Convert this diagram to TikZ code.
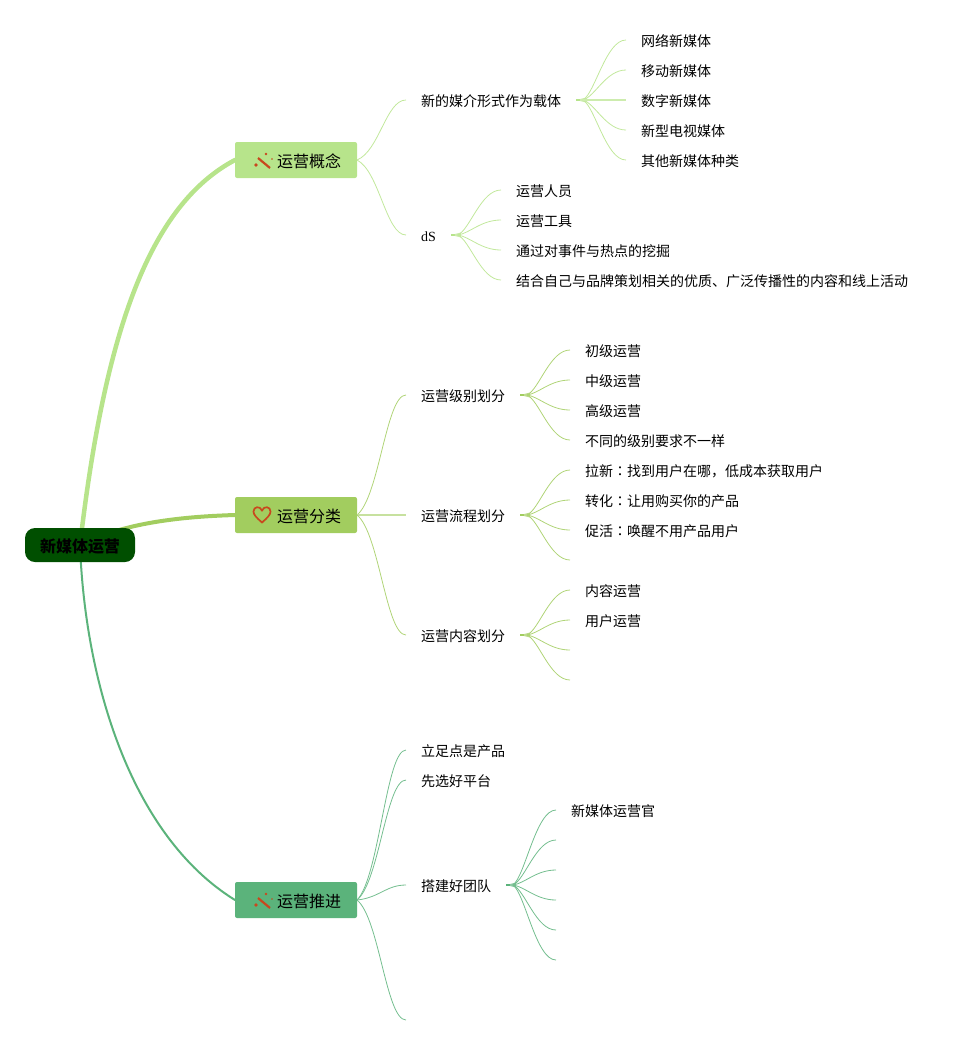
\documentclass[tikz,border=0pt]{standalone}
\usepackage{fontspec}
\setmainfont{Noto Sans CJK SC}
\newfontfamily\latinserif{Liberation Serif}
\newfontfamily\tcglyph{Noto Sans CJK TC}
\usetikzlibrary{calc,backgrounds}
\definecolor{cA}{HTML}{B7E48B}
\definecolor{cB}{HTML}{A2CD5F}
\definecolor{cC}{HTML}{5BB37B}
\definecolor{cRoot}{HTML}{004F00}
\definecolor{cIcon}{HTML}{C8481E}
\tikzset{
  rootbox/.style={draw=none,fill=cRoot,rounded corners=10pt,font=\fontsize{16}{18}\selectfont\bfseries,text=black,inner xsep=15pt,inner ysep=8pt,text height=16pt,text depth=2pt,outer sep=0pt},
  topicbox/.style={rounded corners=2pt,font=\fontsize{16}{18}\selectfont,text=black,inner xsep=0pt,inner ysep=9pt,text width=122pt,align=left,text height=16pt,text depth=2pt,outer sep=0pt},
  item/.style={anchor=west,font=\fontsize{14}{16}\selectfont,text=black,inner xsep=15pt,inner ysep=0pt,text height=14pt,text depth=1.4pt,outer sep=0pt},
  mainlink/.style={line cap=round},
  thin link/.style={line width=0.8pt},
  stublink/.style={line width=2pt},
  iconline/.style={draw=cIcon,line width=2.2pt},
  icondot/.style={fill=cIcon,draw=none}
}
\newcommand{\fanlink}[3]{\draw[#1!85!white,thin link] (#2) .. controls ($(#2)!0.12!(#3)+(7,0)$) and ($(#3)+(-20,0)$) .. (#3);}
\newcommand{\toplink}[3]{\draw[#1!85!white,thin link] (#2) .. controls ($(#2)!0.15!(#3)+(15,0)$) and ($(#3)+(-20,0)$) .. (#3);}
\newcommand{\stub}[3]{\coordinate (#3) at ($(#2)+(7,0)$);\draw[#1,stublink] (#2) -- (#3);\fill[#1!70!white] ($(#3)+(-3,-1)$) -- ($(#3)+(3,-2.5)$) -- ($(#3)+(3,2.5)$) -- ($(#3)+(-3,1)$) -- cycle;}
\newcommand{\wand}[1]{\begin{scope}[shift={(#1)}]
  \draw[iconline] (-4,-2) -- (8,8);
  \fill[icondot] (4,-6) circle (1.4pt) (10,-1) circle (0.8pt) (-6,5) circle (1.8pt);
\end{scope}}
\begin{document}
\begin{tikzpicture}[x=1pt,y=-1pt]
\useasboundingbox (0,0) rectangle (968,1045);
% central topic and main topics
\node[rootbox] (root) at (80,545) {新媒体运营};
\node[topicbox,fill=cA] (t1) at (296,160) {\hspace*{42pt}运营概念};
\node[topicbox,fill=cB] (t2) at (296,515) {\hspace*{42pt}运营分类};
\node[topicbox,fill=cC] (t3) at (296,900) {\hspace*{42pt}运营推进};
% second level
\node[item] (a1) at (406,100) {新的媒介形式作为载体};
\node[item] (a2) at (406,235) {\latinserif dS};
\node[item] (b1) at (406,395) {运营级别划分};
\node[item] (b2) at (406,515) {运营流程划分};
\node[item] (b3) at (406,635) {运营内容划分};
\node[item] (c1) at (406,750) {立足点是产品};
\node[item] (c2) at (406,780) {先选好平台};
\node[item] (c3) at (406,885) {搭建好团队};
\coordinate (c4) at (406,1020);
% third level
\node[item] (a11) at (626,40) {网络新媒体};
\node[item] (a12) at (626,70) {移动新媒体};
\node[item] (a13) at (626,100) {数字新媒体};
\node[item] (a14) at (626,130) {新型电视媒体};
\node[item] (a15) at (626,160) {其他新媒体种类};
\node[item] (a21) at (501,190) {运营人员};
\node[item] (a22) at (501,220) {运营工具};
\node[item] (a23) at (501,250) {通过对事件与热点的挖掘};
\node[item] (a24) at (501,280) {结合自己与品牌策划相关的优质、广泛传播性的内容和线上活动};
\node[item] (b11) at (570,350) {初级运营};
\node[item] (b12) at (570,380) {中级运营};
\node[item] (b13) at (570,410) {高级运营};
\node[item] (b14) at (570,440) {不同的级别要求不一样};
\node[item] (b21) at (570,470) {拉新{\tcglyph ：}找到用户在哪，低成本获取用户};
\node[item] (b22) at (570,500) {转化{\tcglyph ：}让用购买你的产品};
\node[item] (b23) at (570,530) {促活{\tcglyph ：}唤醒不用产品用户};
\coordinate (b24) at (570,560);
\node[item] (b31) at (570,590) {内容运营};
\node[item] (b32) at (570,620) {用户运营};
\coordinate (b33) at (570,650);
\coordinate (b34) at (570,680);
\node[item] (c31) at (556,810) {新媒体运营官};
\coordinate (c32) at (556,840);
\coordinate (c33) at (556,870);
\coordinate (c34) at (556,900);
\coordinate (c35) at (556,930);
\coordinate (c36) at (556,960);
% icons
\wand{262,160}
\wand{262,900}
\draw[iconline,line width=1.7pt] (262,522.5) .. controls (257,518) and (253.5,515) .. (253.5,511.5)
  .. controls (253.5,506.5) and (260,505.5) .. (262,510.5)
  .. controls (264,505.5) and (270.5,506.5) .. (270.5,511.5)
  .. controls (270.5,515) and (267,518) .. (262,522.5) -- cycle;
% connectors
\begin{scope}[on background layer]
\draw[cA,mainlink,line width=4.5pt] (root.center) .. controls (105,330) and (150,205) .. (t1.west);
\draw[cB,mainlink,line width=4pt] (root.center) .. controls (120,525) and (170,517) .. (t2.west);
\draw[cC,mainlink,line width=2pt] (root.center) .. controls (85,680) and (130,835) .. (t3.west);
\toplink{cA}{t1.east}{a1.west}
\toplink{cA}{t1.east}{a2.west}
\toplink{cB}{t2.east}{b1.west}
\draw[cB!60!white,line width=1.2pt] (t2.east) -- (b2.west);
\toplink{cB}{t2.east}{b3.west}
\toplink{cC}{t3.east}{c1.west}
\toplink{cC}{t3.east}{c2.west}
\toplink{cC}{t3.east}{c3.west}
\toplink{cC}{t3.east}{c4}
\stub{cA}{a1.east}{ha1}
\foreach \k in {a11,a12,a14,a15}{\fanlink{cA}{ha1}{\k.west}}
\draw[cA!70!white,line width=1.2pt] (ha1) -- (a13.west);
\stub{cA}{a2.east}{ha2}
\foreach \k in {a21,a22,a23,a24}{\fanlink{cA}{ha2}{\k.west}}
\stub{cB}{b1.east}{hb1}
\foreach \k in {b11,b12,b13,b14}{\fanlink{cB}{hb1}{\k.west}}
\stub{cB}{b2.east}{hb2}
\foreach \k in {b21,b22,b23}{\fanlink{cB}{hb2}{\k.west}}
\fanlink{cB}{hb2}{b24}
\stub{cB}{b3.east}{hb3}
\foreach \k in {b31,b32}{\fanlink{cB}{hb3}{\k.west}}
\fanlink{cB}{hb3}{b33}
\fanlink{cB}{hb3}{b34}
\stub{cC}{c3.east}{hc3}
\fanlink{cC}{hc3}{c31.west}
\foreach \k in {c32,c33,c34,c35,c36}{\fanlink{cC}{hc3}{\k}}
\end{scope}
\end{tikzpicture}
\end{document}
